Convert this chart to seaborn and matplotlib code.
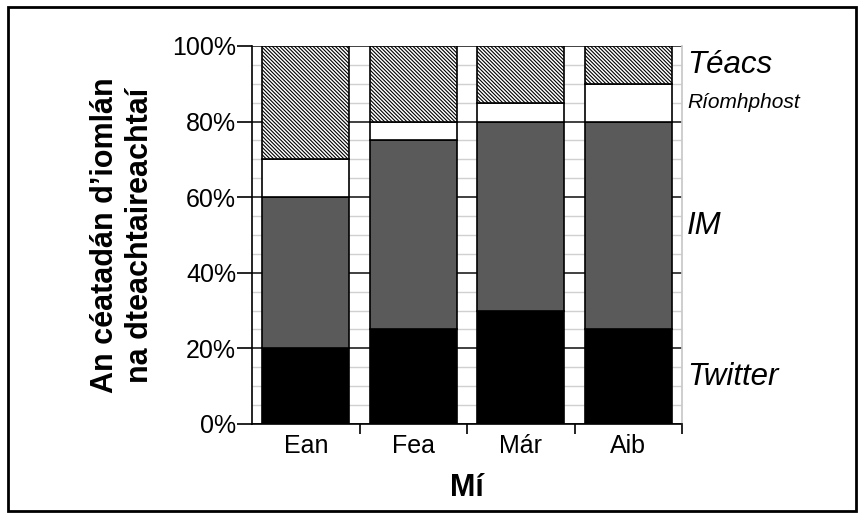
import pandas as pd
import seaborn as sns
import matplotlib.pyplot as plt
from matplotlib.patches import Rectangle
from matplotlib.ticker import MultipleLocator, FixedLocator

months = ['Ean', 'Fea', 'Már', 'Aib']
twitter = [20, 25, 30, 25]
im = [40, 50, 50, 55]
riomhphost = [10, 5, 5, 10]
teacs = [30, 20, 15, 10]

series = ['Twitter', 'IM', 'Ríomhphost', 'Téacs']
values = [twitter, im, riomhphost, teacs]
colours = ['#000000', '#5a5a5a', '#ffffff', '#ffffff']
hatches = [None, None, None, '\\' * 9]
label_sizes = [22.5, 22.5, 15, 22.5]

sns.set_theme(style='white')
plt.rcParams['font.family'] = ['Liberation Sans', 'DejaVu Sans']
plt.rcParams['hatch.linewidth'] = 0.8
plt.rcParams['text.color'] = 'black'
plt.rcParams['axes.labelcolor'] = 'black'
plt.rcParams['xtick.color'] = 'black'
plt.rcParams['ytick.color'] = 'black'

df = pd.DataFrame(dict(zip(series, values)), index=months).reset_index(names='Mí')

fig = plt.figure(figsize=(8.64, 5.18), dpi=100)
ax = fig.add_axes([0.2917, 0.1815, 0.4977, 0.7297])

# frame round the whole picture
fig.patches.append(Rectangle((0.009, 0.014), 0.982, 0.972, transform=fig.transFigure,
                             fill=False, edgecolor='black', linewidth=2))

bottom = pd.Series([0] * len(months))
for name, col, h in zip(series, colours, hatches):
    sns.barplot(data=df, x='Mí', y=name, color=col, bottom=bottom, width=0.81,
                edgecolor='black', linewidth=1.2, hatch=h, saturation=1, ax=ax, zorder=3)
    bottom = bottom + df[name]

# series labels beside the last bar
base = 0
last = df.iloc[-1]
for name, size in zip(series, label_sizes):
    ax.text(3.545, base + last[name] / 2, name, fontsize=size, style='italic',
            va='center', ha='left')
    base += last[name]

ax.set_xlim(-0.5, 3.5)
ax.set_ylim(0, 100)
ax.yaxis.set_minor_locator(MultipleLocator(5))
ax.set_yticks(range(0, 101, 20), [f'{v}%' for v in range(0, 101, 20)])
ax.grid(which='minor', axis='y', color='#d0d0d0', linewidth=1, zorder=0)
ax.grid(which='major', axis='y', color='#202020', linewidth=1.2, zorder=1)
ax.tick_params(axis='y', which='major', length=11, width=1.2,
               labelsize=18, pad=0.5, left=True)
ax.tick_params(axis='y', which='minor', length=0)

ax.xaxis.set_minor_locator(FixedLocator([0.5, 1.5, 2.5, 3.5]))
ax.tick_params(axis='x', which='major', length=0, labelsize=18, pad=7)
ax.tick_params(axis='x', which='minor', length=7, width=1.2,
               bottom=True, direction='out')

for s in ['left', 'bottom']:
    ax.spines[s].set_color('black')
    ax.spines[s].set_linewidth(1.2)
ax.spines['top'].set_visible(False)
ax.spines['right'].set_color('#c8c8c8')

ax.set_xlabel('Mí', fontsize=22, fontweight='bold', labelpad=11)
ax.set_ylabel('An céatadán d’iomlán\nna dteachtaireachtaí', fontsize=22,
              fontweight='bold', labelpad=12, linespacing=1.25)

fig.savefig('out.png', dpi=100)
